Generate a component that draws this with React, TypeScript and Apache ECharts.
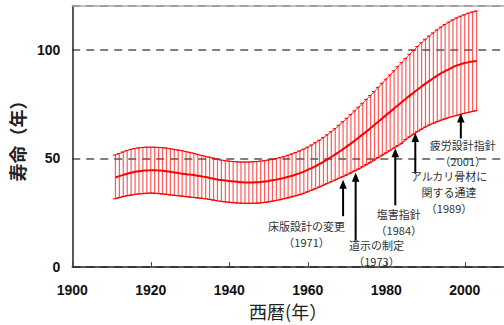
import React, { useEffect, useRef } from 'react';
import * as echarts from 'echarts';

// ---- data ----
const years = [
  1911, 1912, 1913, 1914, 1915, 1916, 1917, 1918, 1919, 1920,
  1921, 1922, 1923, 1924, 1925, 1926, 1927, 1928, 1929, 1930,
  1931, 1932, 1933, 1934, 1935, 1936, 1937, 1938, 1939, 1940,
  1941, 1942, 1943, 1944, 1945, 1946, 1947, 1948, 1949, 1950,
  1951, 1952, 1953, 1954, 1955, 1956, 1957, 1958, 1959, 1960,
  1961, 1962, 1963, 1964, 1965, 1966, 1967, 1968, 1969, 1970,
  1971, 1972, 1973, 1974, 1975, 1976, 1977, 1978, 1979, 1980,
  1981, 1982, 1983, 1984, 1985, 1986, 1987, 1988, 1989, 1990,
  1991, 1992, 1993, 1994, 1995, 1996, 1997, 1998, 1999, 2000,
  2001, 2002, 2003,
];

const meanLife = [
  41.2, 41.8, 42.4, 42.9, 43.4, 43.8, 44.1, 44.3, 44.4, 44.5,
  44.5, 44.4, 44.3, 44.1, 43.8, 43.5, 43.2, 42.9, 42.7, 42.5,
  42.3, 42.0, 41.7, 41.4, 41.0, 40.6, 40.3, 40.0, 39.8, 39.6,
  39.4, 39.2, 39.0, 38.9, 38.9, 38.9, 39.0, 39.1, 39.3, 39.6,
  39.9, 40.2, 40.6, 41.0, 41.5, 42.0, 42.6, 43.2, 43.9, 44.7,
  45.5, 46.4, 47.4, 48.4, 49.5, 50.6, 51.8, 53.0, 54.2, 55.5,
  56.8, 58.2, 59.6, 61.0, 62.4, 63.9, 65.4, 66.9, 68.4, 69.9,
  71.4, 72.9, 74.4, 75.9, 77.4, 78.8, 80.2, 81.6, 83.0, 84.3,
  85.6, 86.8, 88.0, 89.1, 90.1, 91.0, 91.9, 92.7, 93.3, 93.8,
  94.2, 94.5, 94.7,
];

const upperLife = [
  51.5, 52.2, 52.9, 53.6, 54.1, 54.5, 54.8, 55.0, 55.1, 55.1,
  55.1, 55.0, 54.9, 54.7, 54.4, 54.1, 53.8, 53.5, 53.1, 52.7,
  52.3, 51.8, 51.3, 50.9, 50.5, 50.1, 49.6, 49.2, 48.9, 48.7,
  48.5, 48.4, 48.3, 48.3, 48.3, 48.4, 48.5, 48.7, 48.9, 49.2,
  49.5, 49.9, 50.3, 50.8, 51.4, 52.0, 52.7, 53.4, 54.2, 55.1,
  56.1, 57.2, 58.3, 59.5, 60.8, 62.2, 63.6, 65.2, 66.8, 68.4,
  70.1, 71.8, 73.5, 75.3, 77.1, 78.9, 80.7, 82.6, 84.5, 86.4,
  88.3, 90.2, 92.1, 94.0, 95.9, 97.8, 99.6, 101.4, 103.1, 104.7,
  106.2, 107.6, 109.0, 110.3, 111.5, 112.6, 113.6, 114.5, 115.3, 116.0,
  116.7, 117.2, 117.7,
];

const lowerLife = [
  31.4, 31.9, 32.4, 32.8, 33.1, 33.4, 33.6, 33.8, 33.9, 34.0,
  33.9, 33.8, 33.6, 33.4, 33.2, 33.0, 32.8, 32.6, 32.4, 32.2,
  32.0, 31.8, 31.6, 31.4, 31.1, 30.8, 30.5, 30.2, 30.0, 29.8,
  29.6, 29.5, 29.4, 29.3, 29.3, 29.3, 29.4, 29.5, 29.7, 30.0,
  30.3, 30.6, 31.0, 31.4, 31.8, 32.3, 32.8, 33.3, 33.9, 34.6,
  35.3, 36.0, 36.8, 37.6, 38.4, 39.2, 40.0, 40.8, 41.6, 42.4,
  43.3, 44.2, 45.1, 46.1, 47.1, 48.1, 49.2, 50.3, 51.4, 52.5,
  53.6, 54.7, 55.8, 56.9, 58.6, 59.9, 61.1, 62.3, 63.4, 64.4,
  65.3, 66.1, 66.8, 67.5, 68.1, 68.7, 69.2, 69.7, 70.2, 70.7,
  71.1, 71.5, 71.9,
];

// annotations: arrow x (year), arrow tip value, arrow tail value, label anchor
const annYears = [1969, 1972.2, 1982.3, 1987.4, 1999];
const annTip = [40.2, 43.4, 54.6, 61.6, 70.6];
const annTail = [23.4, 12.2, 28.4, 42.9, 59.1];
const annLabelYear = [1959.7, 1977.5, 1983.2, 1996.0, 1999.5];
const annLabelValue = [15.4, 6.4, 20.9, 34.4, 52.3];
const annLabels = [
  ['床版設計の変更', '（1971）'],
  ['道示の制定', '（1973）'],
  ['塩害指針', '（1984）'],
  ['アルカリ骨材に', '関する通達', '（1989）'],
  ['疲労設計指針', '（2001）'],
];

const xTicks = { min: 1900, max: 2010, interval: 20 };
const yTicks = { min: 0, max: 120, interval: 50 };

const FONT_CJK = '"Noto Sans CJK JP", "Noto Sans", sans-serif';
const FONT_NUM = '"Liberation Sans", Arial, sans-serif';
const LINE_GAP = 16;

export default function App() {
  const ref = useRef<HTMLDivElement>(null);

  useEffect(() => {
    const chart = echarts.init(ref.current!, null, { renderer: 'svg' });
    const barData = years.map((y, i) => [y, lowerLife[i], upperLife[i]]);
    const annData = annYears.map((y, i) => [y, annTip[i], annTail[i], annLabelYear[i], annLabelValue[i]]);
    const zip = (arr: number[]) => years.map((y, i) => [y, arr[i]]);

    chart.setOption({
      animation: false,
      grid: { left: 61, right: -3, top: 6, bottom: 53 },
      xAxis: [
        {
          type: 'value',
          min: xTicks.min,
          max: xTicks.max,
          interval: xTicks.interval,
          name: '西暦(年）',
          nameLocation: 'middle',
          nameGap: 32,
          nameTextStyle: { fontFamily: FONT_CJK, fontSize: 18, color: '#222' },
          axisLine: { onZero: false, lineStyle: { color: '#222', width: 1.5 } },
          axisTick: { inside: true, length: 5, lineStyle: { color: '#444', width: 1 } },
          axisLabel: {
            margin: 16,
            fontFamily: FONT_NUM,
            fontWeight: 'bold',
            fontSize: 14,
            color: '#111',
            showMaxLabel: false,
            formatter: (v: number) => String(v),
          },
          splitLine: { show: false },
        },
        {
          type: 'value',
          position: 'top',
          min: xTicks.min,
          max: xTicks.max,
          axisLine: { show: true, onZero: false, lineStyle: { color: '#aaa', width: 1.5 } },
          axisTick: { show: false },
          axisLabel: { show: false },
          splitLine: { show: false },
        },
      ],
      yAxis: {
        type: 'value',
        min: yTicks.min,
        max: yTicks.max,
        interval: yTicks.interval,
        name: '寿命（年）',
        nameLocation: 'middle',
        nameGap: 31,
        nameTextStyle: { fontFamily: FONT_CJK, fontSize: 18, fontWeight: 'bold', color: '#222' },
        axisLine: { show: true, lineStyle: { color: '#222', width: 1.5 } },
        axisTick: { show: false },
        axisLabel: {
          margin: 12,
          fontFamily: FONT_NUM,
          fontWeight: 'bold',
          fontSize: 14,
          color: '#111',
          showMaxLabel: false,
          formatter: (v: number) => String(v),
        },
        splitLine: { show: true, lineStyle: { type: [8, 6], color: '#555', width: 1.5 } },
      },
      series: [
        {
          type: 'custom',
          name: 'range',
          data: barData,
          encode: { x: 0, y: [1, 2] },
          renderItem: (params: any, api: any) => {
            const x = api.value(0);
            const lo = api.coord([x, api.value(1)]);
            const hi = api.coord([x, api.value(2)]);
            return {
              type: 'group',
              children: [
                {
                  type: 'line',
                  shape: { x1: lo[0], y1: lo[1], x2: hi[0], y2: hi[1] },
                  style: { stroke: 'rgba(255,20,20,0.7)', lineWidth: 1.2 },
                },
                {
                  type: 'line',
                  shape: { x1: hi[0] - 2.5, y1: hi[1], x2: hi[0] + 1, y2: hi[1] },
                  style: { stroke: '#ff0000', lineWidth: 1 },
                },
                {
                  type: 'line',
                  shape: { x1: lo[0] - 2.5, y1: lo[1], x2: lo[0] + 1, y2: lo[1] },
                  style: { stroke: '#ff0000', lineWidth: 1 },
                },
              ],
            };
          },
          z: 2,
        },
        {
          type: 'line',
          name: 'upper',
          data: zip(upperLife),
          smooth: true,
          showSymbol: false,
          lineStyle: { color: '#ff0000', width: 1 },
          z: 3,
        },
        {
          type: 'line',
          name: 'lower',
          data: zip(lowerLife),
          smooth: true,
          showSymbol: false,
          lineStyle: { color: '#ff0000', width: 1.2 },
          z: 3,
        },
        {
          type: 'line',
          name: 'mean',
          data: zip(meanLife),
          smooth: true,
          showSymbol: false,
          lineStyle: { color: '#ff0000', width: 2 },
          z: 4,
        },
        {
          type: 'custom',
          name: 'notes',
          data: annData,
          clip: false,
          encode: { x: 0, y: 1 },
          renderItem: (params: any, api: any) => {
            const i = params.dataIndex;
            const x = api.value(0);
            const tip = api.coord([x, api.value(1)]);
            const tail = api.coord([x, api.value(2)]);
            const lab = api.coord([api.value(3), api.value(4)]);
            const lines = annLabels[i];
            const top = lab[1] - ((lines.length - 1) * LINE_GAP) / 2;
            const texts = lines.map((t, k) => ({
              type: 'text',
              x: lab[0],
              y: top + k * LINE_GAP,
              style: {
                text: t,
                fill: '#333',
                fontFamily: FONT_CJK,
                fontSize: 11,
                align: 'center',
                verticalAlign: 'middle',
              },
            }));
            return {
              type: 'group',
              children: [
                {
                  type: 'line',
                  shape: { x1: tail[0], y1: tail[1], x2: tip[0], y2: tip[1] + 6 },
                  style: { stroke: '#000', lineWidth: 2 },
                },
                {
                  type: 'polygon',
                  shape: {
                    points: [
                      [tip[0], tip[1]],
                      [tip[0] - 3.8, tip[1] + 9],
                      [tip[0] + 3.8, tip[1] + 9],
                    ],
                  },
                  style: { fill: '#000' },
                },
                ...texts,
              ],
            };
          },
          z: 5,
        },
      ],
    });

    return () => chart.dispose();
  }, []);

  return (
    <div
      ref={ref}
      style={{ position: 'fixed', left: 0, top: 0, width: 504, height: 325, background: '#fff' }}
    />
  );
}
